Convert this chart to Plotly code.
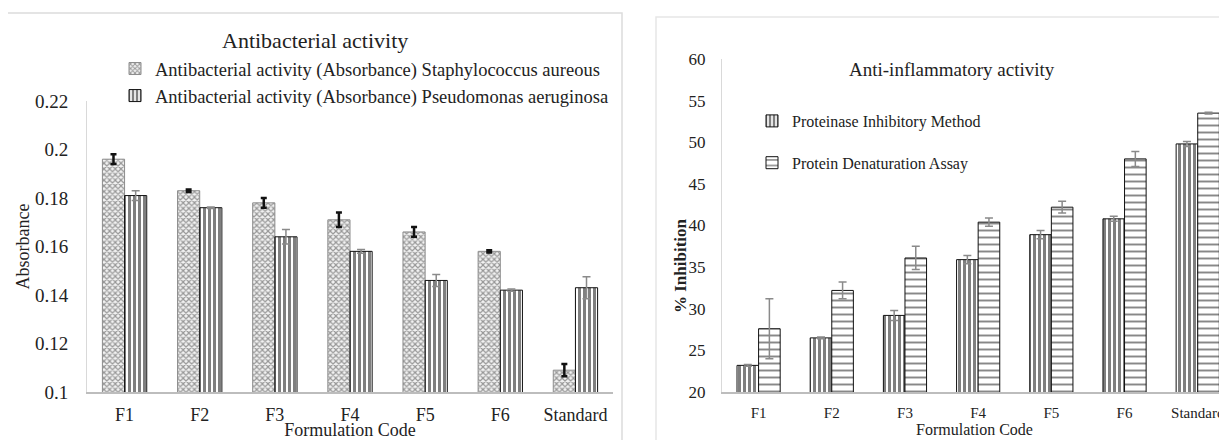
import plotly.graph_objects as go

# ---------------- data ----------------
categories = ["F1", "F2", "F3", "F4", "F5", "F6", "Standard"]

staph_name = "Antibacterial activity (Absorbance) Staphylococcus aureous"
staph_vals = [0.196, 0.183, 0.178, 0.171, 0.166, 0.158, 0.109]
staph_err = [0.002, 0.0005, 0.002, 0.003, 0.002, 0.0005, 0.0025]

pseudo_name = "Antibacterial activity (Absorbance) Pseudomonas aeruginosa"
pseudo_vals = [0.181, 0.176, 0.164, 0.158, 0.146, 0.142, 0.143]
pseudo_err = [0.002, 0.0003, 0.003, 0.0008, 0.0025, 0.0005, 0.0045]

prot_name = "Proteinase Inhibitory Method"
prot_vals = [23.2, 26.5, 29.2, 35.9, 38.9, 40.8, 49.8]
prot_err = [0.1, 0.1, 0.6, 0.5, 0.5, 0.3, 0.3]

denat_name = "Protein Denaturation Assay"
denat_vals = [27.6, 32.2, 36.1, 40.4, 42.2, 48.0, 53.5]
denat_err = [3.6, 1.0, 1.4, 0.5, 0.7, 0.9, 0.1]

left_ticks = [0.1, 0.12, 0.14, 0.16, 0.18, 0.2, 0.22]
left_ticktext = ["0.1", "0.12", "0.14", "0.16", "0.18", "0.2", "0.22"]
right_ticks = [20, 25, 30, 35, 40, 45, 50, 55, 60]

left_title = "Antibacterial activity"
right_title = "Anti-inflammatory activity"
x_title = "Formulation Code"
left_ytitle = "Absorbance"
right_ytitle = "% Inhibition"

# ---------------- figure ----------------
OFF = 8                      # browser body margin
W, H = 1227 - OFF, 440 - OFF
FONT = "Liberation Serif, Times New Roman, serif"

def px(x):
    return (x - OFF) / W

def py(y):
    return 1 - (y - OFF) / H

fig = go.Figure()

fig.add_trace(go.Bar(
    x=categories, y=staph_vals, name=staph_name,
    xaxis="x", yaxis="y", legend="legend", legendgroup="a",
    marker=dict(color="white", line=dict(color="#8c8c8c", width=1),
                pattern=dict(shape="x", size=4, solidity=0.5,
                             fgcolor="#3c3c3c", bgcolor="#f2f2f2")),
    error_y=dict(type="data", array=staph_err, color="#111111",
                 thickness=2.5, width=3),
))
fig.add_trace(go.Bar(
    x=categories, y=pseudo_vals, name=pseudo_name,
    xaxis="x", yaxis="y", legend="legend", legendgroup="b",
    marker=dict(color="white", line=dict(color="#111111", width=1),
                pattern=dict(shape="|", size=5, solidity=0.6,
                             fgcolor="#000000", bgcolor="white")),
    error_y=dict(type="data", array=pseudo_err, color="#8a8a8a",
                 thickness=1.5, width=4),
))
fig.add_trace(go.Bar(
    x=categories, y=prot_vals, name=prot_name,
    xaxis="x2", yaxis="y2", legend="legend2", legendgroup="c",
    marker=dict(color="white", line=dict(color="#111111", width=1),
                pattern=dict(shape="|", size=5, solidity=0.6,
                             fgcolor="#000000", bgcolor="white")),
    error_y=dict(type="data", array=prot_err, color="#8a8a8a",
                 thickness=1.5, width=4),
))
fig.add_trace(go.Bar(
    x=categories, y=denat_vals, name=denat_name,
    xaxis="x2", yaxis="y2", legend="legend2", legendgroup="d",
    marker=dict(color="white", line=dict(color="#111111", width=1),
                pattern=dict(shape="-", size=7, solidity=0.28,
                             fgcolor="#111111", bgcolor="white")),
    error_y=dict(type="data", array=denat_err, color="#8a8a8a",
                 thickness=1.5, width=4),
))

axis_common = dict(showgrid=False, zeroline=False, ticks="", automargin=False)

fig.update_layout(
    width=W, height=H, autosize=False,
    margin=dict(l=0, r=0, t=0, b=0),
    paper_bgcolor="white", plot_bgcolor="white",
    font=dict(family=FONT, color="#222"),
    barmode="group", bargap=0.41, bargroupgap=0,
    xaxis=dict(**axis_common, domain=[px(87), px(613)], range=[-0.5, 6.5],
               anchor="y", showline=True, linecolor="#bdbdbd", linewidth=1.5,
               ticklabelstandoff=6,
               tickfont=dict(family=FONT, color="#222", size=18),
               title=dict(text=x_title, standoff=0,
                          font=dict(family=FONT, size=18, color="#222"))),
    yaxis=dict(**axis_common, domain=[py(392), py(101)], range=[0.1, 0.22],
               anchor="x", showline=True, linecolor="#d9d9d9", linewidth=1,
               tickvals=left_ticks, ticktext=left_ticktext, ticklabelstandoff=14,
               tickfont=dict(family=FONT, color="#222", size=19),
               title=dict(text=left_ytitle, standoff=0,
                          font=dict(family=FONT, size=18, color="#222"))),
    xaxis2=dict(**axis_common, domain=[px(722), 1.0], range=[-0.5, 6.4],
                anchor="y2", showline=True, linecolor="#bdbdbd", linewidth=1.5,
                ticklabelstandoff=6,
                tickfont=dict(family=FONT, color="#222", size=15),
                title=dict(text=x_title, standoff=0,
                           font=dict(family=FONT, size=16, color="#222"))),
    yaxis2=dict(**axis_common, domain=[py(392), py(59)], range=[20, 60],
                anchor="x2", showline=True, linecolor="#d9d9d9", linewidth=1,
                tickvals=right_ticks, ticklabelstandoff=12,
                tickfont=dict(family=FONT, color="#222", size=17)),
    legend=dict(x=px(115), y=py(50), xanchor="left", yanchor="top",
                bgcolor="rgba(0,0,0,0)", tracegroupgap=0, itemwidth=30,
                font=dict(family=FONT, size=18.5, color="#222")),
    legend2=dict(x=px(752), y=py(104), xanchor="left", yanchor="top",
                 bgcolor="rgba(0,0,0,0)", tracegroupgap=18, itemwidth=30,
                 font=dict(family=FONT, size=16, color="#222")),
    showlegend=True,
    annotations=[
        dict(text=left_title, x=px(315), y=py(40), xref="paper", yref="paper",
             showarrow=False, xanchor="center", yanchor="middle",
             font=dict(family=FONT, size=22, color="#222")),
        dict(text=right_title, x=px(952), y=py(69), xref="paper", yref="paper",
             showarrow=False, xanchor="center", yanchor="middle",
             font=dict(family=FONT, size=19, color="#222")),
        dict(text="<b>" + right_ytitle + "</b>", x=px(680), y=py(266),
             xref="paper", yref="paper", showarrow=False, textangle=-90,
             xanchor="center", yanchor="middle",
             font=dict(family=FONT, size=17, color="#222")),
    ],
    shapes=[
        dict(type="rect", xref="paper", yref="paper",
             x0=px(7), x1=px(622), y0=-0.05, y1=py(13),
             line=dict(color="#dcdcdc", width=1.5)),
        dict(type="rect", xref="paper", yref="paper",
             x0=px(656), x1=1.05, y0=-0.05, y1=py(17),
             line=dict(color="#e6e6e6", width=1.5)),
    ],
)

fig.write_html("out.html")
